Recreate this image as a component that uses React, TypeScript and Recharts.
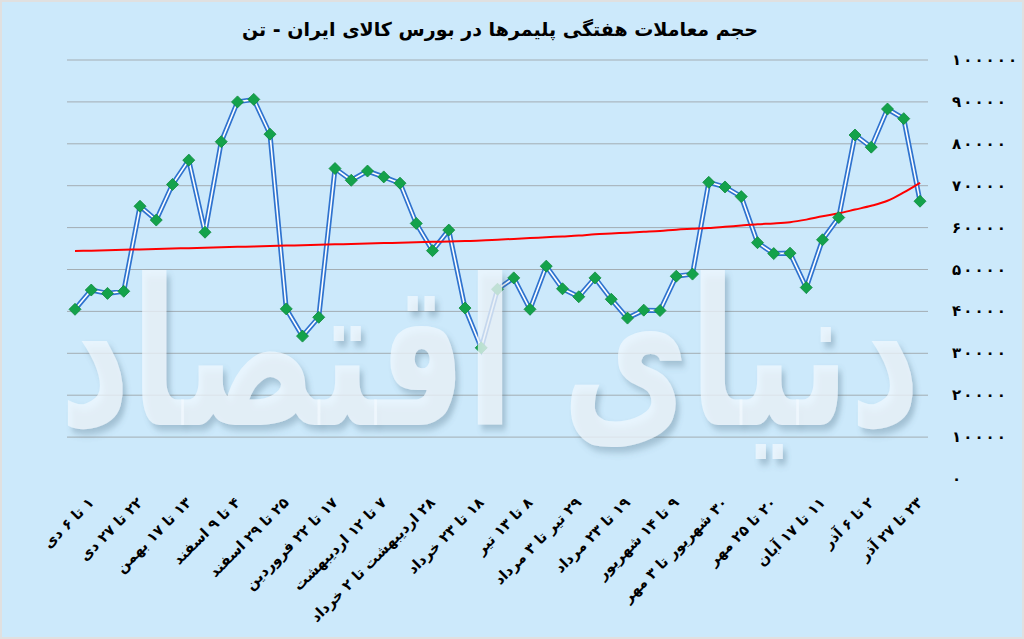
import { CartesianGrid, Line, LineChart, XAxis, YAxis } from 'recharts';

// weekly volume, tonnes (first point is the week before 1 Dey)
const weeks = [
  '۲۴ تا ۲۸ آذر', '۱ تا ۶ دی', '۸ تا ۱۳ دی', '۱۵ تا ۲۰ دی', '۲۲ تا ۲۷ دی', '۲۹ دی تا ۴ بهمن',
  '۶ تا ۱۱ بهمن', '۱۳ تا ۱۷ بهمن', '۲۰ تا ۲۵ بهمن', '۲۷ بهمن تا ۲ اسفند', '۴ تا ۹ اسفند', '۱۱ تا ۱۶ اسفند',
  '۱۸ تا ۲۳ اسفند', '۲۵ تا ۲۹ اسفند', '۳ تا ۸ فروردین', '۱۰ تا ۱۵ فروردین', '۱۷ تا ۲۲ فروردین', '۲۴ تا ۲۹ فروردین',
  '۳۱ فروردین تا ۵ اردیبهشت', '۷ تا ۱۲ اردیبهشت', '۱۴ تا ۱۹ اردیبهشت', '۲۱ تا ۲۶ اردیبهشت', '۲۸ اردیبهشت تا ۲ خرداد', '۴ تا ۹ خرداد',
  '۱۱ تا ۱۶ خرداد', '۱۸ تا ۲۳ خرداد', '۲۵ تا ۳۰ خرداد', '۱ تا ۶ تیر', '۸ تا ۱۳ تیر', '۱۵ تا ۲۰ تیر',
  '۲۲ تا ۲۷ تیر', '۲۹ تیر تا ۳ مرداد', '۵ تا ۱۰ مرداد', '۱۲ تا ۱۷ مرداد', '۱۹ تا ۲۳ مرداد', '۲۶ تا ۳۱ مرداد',
  '۲ تا ۷ شهریور', '۹ تا ۱۴ شهریور', '۱۶ تا ۲۱ شهریور', '۲۳ تا ۲۸ شهریور', '۳۰ شهریور تا ۳ مهر', '۶ تا ۱۱ مهر',
  '۱۳ تا ۱۸ مهر', '۲۰ تا ۲۵ مهر', '۲۷ مهر تا ۲ آبان', '۴ تا ۹ آبان', '۱۱ تا ۱۷ آبان', '۱۸ تا ۲۳ آبان',
  '۲۵ تا ۳۰ آبان', '۲ تا ۶ آذر', '۹ تا ۱۴ آذر', '۱۶ تا ۲۱ آذر', '۲۳ تا ۲۷ آذر',
];

const tickWeeks = [
  '۱ تا ۶ دی', '۲۲ تا ۲۷ دی', '۱۳ تا ۱۷ بهمن', '۴ تا ۹ اسفند', '۲۵ تا ۲۹ اسفند', '۱۷ تا ۲۲ فروردین',
  '۷ تا ۱۲ اردیبهشت', '۲۸ اردیبهشت تا ۲ خرداد', '۱۸ تا ۲۳ خرداد', '۸ تا ۱۳ تیر', '۲۹ تیر تا ۳ مرداد', '۱۹ تا ۲۳ مرداد',
  '۹ تا ۱۴ شهریور', '۳۰ شهریور تا ۳ مهر', '۲۰ تا ۲۵ مهر', '۱۱ تا ۱۷ آبان', '۲ تا ۶ آذر', '۲۳ تا ۲۷ آذر',
];

const volumes = [
  40500, 45100, 44300, 44800, 65100, 61800, 70300, 76100, 58900, 80500, 90000, 90600, 82300,
  40600, 34100, 38600, 74100, 71300, 73500, 72100, 70600, 61000, 54500, 59400, 40800, 31300,
  45300, 48000, 40500, 50800, 45400, 43500, 48000, 42900, 38400, 40300, 40200, 48400, 48900,
  70800, 69700, 67400, 56400, 53800, 53900, 45700, 57100, 62400, 82100, 79200, 88300, 86000, 66300,
];

// red trend curve
const trend = [
  54400, 54500, 54600, 54700, 54800, 54900, 55000, 55100, 55200, 55300, 55400, 55500, 55600,
  55700, 55800, 55900, 56000, 56100, 56200, 56300, 56400, 56500, 56600, 56700, 56800, 56900,
  57100, 57300, 57500, 57700, 57900, 58100, 58400, 58600, 58800, 59000, 59200, 59500, 59700,
  59900, 60200, 60500, 60800, 61000, 61300, 61900, 62700, 63400, 64300, 65200, 66400, 68400, 70700,
];

const yTicks = [0, 10000, 20000, 30000, 40000, 50000, 60000, 70000, 80000, 90000, 100000];
const gridValues = yTicks.slice(1);

const data = weeks.map((week, i) => ({ week, volume: volumes[i], trend: trend[i] }));

const font = 'DejaVu Sans, sans-serif';
const toPersian = (n: number | string) => String(n).replace(/\d/g, (d) => '۰۱۲۳۴۵۶۷۸۹'[Number(d)]);

const Diamond = ({ cx, cy }: any) => {
  if (cx == null || cy == null) return null;
  const r = 6;
  return (
    <path
      d={`M${cx},${cy - r}L${cx + r},${cy}L${cx},${cy + r}L${cx - r},${cy}Z`}
      fill="#14a24b"
      stroke="#0c8a3b"
      strokeWidth={0.8}
    />
  );
};

const WeekTick = ({ x, y, payload }: any) => (
  <g transform={`translate(${x},${y + 13})`}>
    <text
      x={0}
      y={0}
      dy={5}
      transform="rotate(-45)"
      direction="rtl"
      textAnchor="start"
      fill="#000"
      fontFamily={font}
      fontWeight="bold"
      fontSize={14.5}
    >
      {payload.value}
    </text>
  </g>
);

// Persian digits ignore letter-spacing, so each digit gets its own slot
const ValueTick = ({ x, y, payload }: any) => {
  const digits = Array.from(toPersian(payload.value));
  return (
    <text y={y} dy={5} fill="#000" fontFamily={font} fontWeight="bold" fontSize={15}>
      {digits.map((d, i) => (
        <tspan key={i} x={x + i * 11.2}>
          {d}
        </tspan>
      ))}
    </text>
  );
};

export default function App() {
  return (
    <div
      style={{
        position: 'fixed',
        left: 0,
        top: 0,
        width: 1024,
        height: 639,
        background: '#cce9fb',
        boxShadow: 'inset 0 0 0 2px #e0e0e0',
        overflow: 'hidden',
      }}
    >
      <div
        style={{
          position: 'absolute',
          top: 18,
          left: 0,
          width: 1000,
          textAlign: 'center',
          direction: 'rtl',
          fontFamily: font,
          fontWeight: 'bold',
          fontSize: 19,
          color: '#000',
        }}
      >
        حجم معاملات هفتگی پلیمرها در بورس کالای ایران - تن
      </div>
      <LineChart width={1024} height={639} data={data} margin={{ top: 60, right: 6, left: 67, bottom: 10 }}>
        <CartesianGrid vertical={false} stroke="#a3adb3" horizontalValues={gridValues} />
        <XAxis
          dataKey="week"
          ticks={tickWeeks}
          interval={0}
          height={150}
          padding={{ left: 8, right: 8 }}
          tickLine={false}
          axisLine={false}
          tick={<WeekTick />}
        />
        <YAxis
          orientation="right"
          width={90}
          domain={[0, 100000]}
          ticks={yTicks}
          interval={0}
          tickLine={false}
          axisLine={false}
          tickMargin={18}
          tick={<ValueTick />}
        />
        <Line type="linear" dataKey="volume" stroke="#2f73cf" strokeWidth={5} dot={false} activeDot={false} isAnimationActive={false} />
        <Line type="linear" dataKey="volume" stroke="#ffffff" strokeWidth={1.6} dot={false} activeDot={false} isAnimationActive={false} />
        <Line type="monotone" dataKey="trend" stroke="#ff0000" strokeWidth={2} dot={false} activeDot={false} isAnimationActive={false} />
        <Line type="linear" dataKey="volume" stroke="none" dot={<Diamond />} activeDot={false} isAnimationActive={false} />
      </LineChart>
      <svg width={1024} height={639} style={{ position: 'absolute', left: 0, top: 0, pointerEvents: 'none' }}>
        <defs>
          <filter id="wmShadow" x="-5%" y="-5%" width="110%" height="110%">
            <feDropShadow dx={3} dy={3} stdDeviation={2} floodColor="#4a6a80" floodOpacity={0.45} />
          </filter>
        </defs>
        <g transform="translate(490,425) scale(1.23,1.85)">
          <text
            x={0}
            y={0}
            textAnchor="middle"
            direction="rtl"
            fontFamily={font}
            fontWeight="bold"
            fontSize={110}
            textLength={700}
            lengthAdjust="spacingAndGlyphs"
            fill="#f2f9ff"
            fillOpacity={0.72}
            filter="url(#wmShadow)"
          >
            دنیای اقتصاد
          </text>
        </g>
      </svg>
    </div>
  );
}
